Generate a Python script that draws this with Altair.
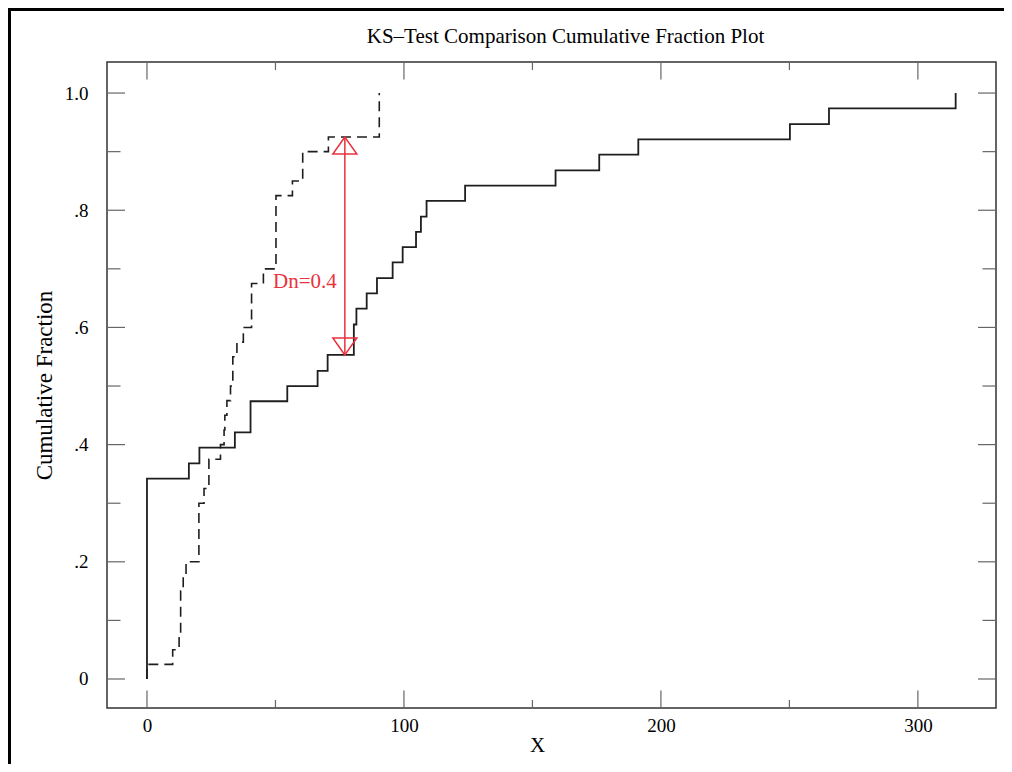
import altair as alt
import pandas as pd

# ---- data ----
# sample 1 (solid line) empirical cumulative fraction steps
solid_x = [0, 0, 16.3, 20.4, 34.2, 40.3, 54.6, 66.4, 70.3, 80.5, 81.5, 85.5, 89.5,
           95.6, 99.5, 104.7, 106.6, 108.8, 123.8, 159.0, 176.0, 191.2, 250.2, 265.4, 314.7]
solid_y = [0, 0.342, 0.368, 0.395, 0.421, 0.474, 0.5, 0.526, 0.553, 0.605, 0.632, 0.658, 0.684,
           0.711, 0.737, 0.763, 0.789, 0.816, 0.842, 0.868, 0.895, 0.921, 0.947, 0.974, 1.0]
# sample 2 (dashed line)
dash_x = [0, 0, 10.0, 12.5, 13.1, 14.1, 15.2, 20.2, 22.2, 24.1, 28.6, 30.0, 30.3, 31.1,
          32.5, 33.4, 35.0, 37.5, 40.7, 45.3, 50.2, 56.6, 60.6, 70.6, 90.4]
dash_y = [0, 0.025, 0.05, 0.075, 0.15, 0.175, 0.2, 0.3, 0.325, 0.375, 0.4, 0.425, 0.45, 0.475,
          0.5, 0.55, 0.575, 0.6, 0.675, 0.7, 0.825, 0.85, 0.9, 0.925, 1.0]

# D statistic annotation
arrow_x = [77.0]
arrow_top = [0.925]
arrow_bottom = [0.553]
dn_label = ["Dn=0.4"]
dn_label_y = [0.678]

# axes
x_major = [0, 100, 200, 300]
x_minor = [50, 150, 250]
y_major = [0, 0.2, 0.4, 0.6, 0.8, 1.0]
y_minor = [0.1, 0.3, 0.5, 0.7, 0.9]
y_tick_labels = ["0", ".2", ".4", ".6", ".8", "1.0"]

TITLE = "KS\u2013Test Comparison Cumulative Fraction Plot"
X_TITLE = "X"
Y_TITLE = "Cumulative Fraction"
FONT = "Liberation Serif"
W, H = 889, 646
RED = "#e8323c"
INK = "#1e1e1e"

xs = alt.Scale(domain=[-15.56, 330.4], nice=False, zero=False)
ys = alt.Scale(domain=[-0.0495, 1.053], nice=False, zero=False)

# y label expression built from the label list
expr = "''"
for v, lab in reversed(list(zip(y_major, y_tick_labels))):
    expr = f"abs(datum.value - {v}) < 0.01 ? '{lab}' : ({expr})"

solid_df = pd.DataFrame({"x": solid_x, "y": solid_y, "i": range(len(solid_x))})
dash_df = pd.DataFrame({"x": dash_x, "y": dash_y, "i": range(len(dash_x))})

x_axis = alt.Axis(values=x_major, format="d", ticks=False, tickSize=0, domain=False, grid=False,
                  labelFont=FONT, labelFontSize=19, labelColor="black", labelPadding=8,
                  title=None)
y_axis = alt.Axis(values=y_major, labelExpr=expr, ticks=False, tickSize=0, domain=False, grid=False,
                  labelFont=FONT, labelFontSize=19, labelColor="black", labelPadding=19,
                  title=Y_TITLE, titleFont=FONT, titleFontSize=23,
                  titleFontWeight="normal", titleColor="black", titlePadding=8)

def X(field):
    return alt.X(field, type="quantitative", scale=xs, axis=x_axis)

def Y(field):
    return alt.Y(field, type="quantitative", scale=ys, axis=y_axis)

solid = alt.Chart(solid_df).mark_line(interpolate="step-after", color=INK, strokeWidth=1.8).encode(
    x=X("x"), y=Y("y"), order=alt.Order("i:Q"))
dashed = alt.Chart(dash_df).mark_line(interpolate="step-after", color=INK, strokeWidth=1.6,
                                      strokeDash=[10, 6]).encode(
    x=X("x"), y=Y("y"), order=alt.Order("i:Q"))

# inward tick marks on all four sides
TICK = "#666666"
def xticks(vals, length):
    d = pd.DataFrame({"v": vals})
    bot = alt.Chart(d).mark_rule(color=TICK, strokeWidth=1.2).encode(
        x=X("v"), y=alt.value(H), y2=alt.value(H - length))
    top = alt.Chart(d).mark_rule(color=TICK, strokeWidth=1.2).encode(
        x=X("v"), y=alt.value(0), y2=alt.value(length))
    return [bot, top]

def yticks(vals, length):
    d = pd.DataFrame({"v": vals})
    left = alt.Chart(d).mark_rule(color=TICK, strokeWidth=1.2).encode(
        y=Y("v"), x=alt.value(0), x2=alt.value(length))
    right = alt.Chart(d).mark_rule(color=TICK, strokeWidth=1.2).encode(
        y=Y("v"), x=alt.value(W), x2=alt.value(W - length))
    return [left, right]

ticks = xticks(x_major, 17.5) + xticks(x_minor, 8) + yticks(y_major, 18) + yticks(y_minor, 13.5)

ann_df = pd.DataFrame({"x": arrow_x, "top": arrow_top, "bottom": arrow_bottom,
                       "label": dn_label, "ly": dn_label_y})
arrow_line = alt.Chart(ann_df).mark_rule(color=RED, strokeWidth=1.5).encode(
    x=X("x"), y=Y("top"), y2="bottom:Q")
head_top = alt.Chart(ann_df).mark_point(shape="M0,0 L-1,1.42 L1,1.42 Z", size=576, filled=False,
                                        color=RED, strokeWidth=1.5, opacity=1).encode(
    x=X("x"), y=Y("top"))
head_bot = alt.Chart(ann_df).mark_point(shape="M0,0 L-1,-1.42 L1,-1.42 Z", size=576, filled=False,
                                        color=RED, strokeWidth=1.5, opacity=1).encode(
    x=X("x"), y=Y("bottom"))
dn_text = alt.Chart(ann_df).mark_text(align="right", baseline="middle", dx=-8, font=FONT,
                                      fontSize=21, color=RED).encode(
    x=X("x"), y=Y("ly"), text="label:N")

# chart title and x-axis title as text annotations (both sit off-centre in the original)
title_text = alt.Chart(pd.DataFrame({"t": [TITLE]})).mark_text(
    align="center", baseline="middle", font=FONT, fontSize=21, color="black").encode(
    x=alt.value(W / 2 + 14), y=alt.value(-25), text="t:N")
xtitle_text = alt.Chart(pd.DataFrame({"t": [X_TITLE]})).mark_text(
    align="center", baseline="middle", font=FONT, fontSize=21, color="black").encode(
    x=alt.value(W / 2 - 14), y=alt.value(H + 38), text="t:N")

# outer figure border (only its top and left edges fall inside the window)
border = alt.Chart(pd.DataFrame({"a": [0]})).mark_rect(fill=None, stroke="black", strokeWidth=3).encode(
    x=alt.value(-97.5), x2=alt.value(1200), y=alt.value(-52.5), y2=alt.value(1000))

chart = alt.layer(solid, dashed, *ticks, arrow_line, head_top, head_bot, dn_text,
                  title_text, xtitle_text, border).properties(
    width=W, height=H,
    autosize=alt.AutoSizeParams(type="none"),
    padding={"left": 99, "top": 54, "right": 8, "bottom": 56},
).configure(background="white").configure_view(stroke="#333333", strokeWidth=1.5)

chart.save("out.html", embed_options={"renderer": "svg", "actions": False})
